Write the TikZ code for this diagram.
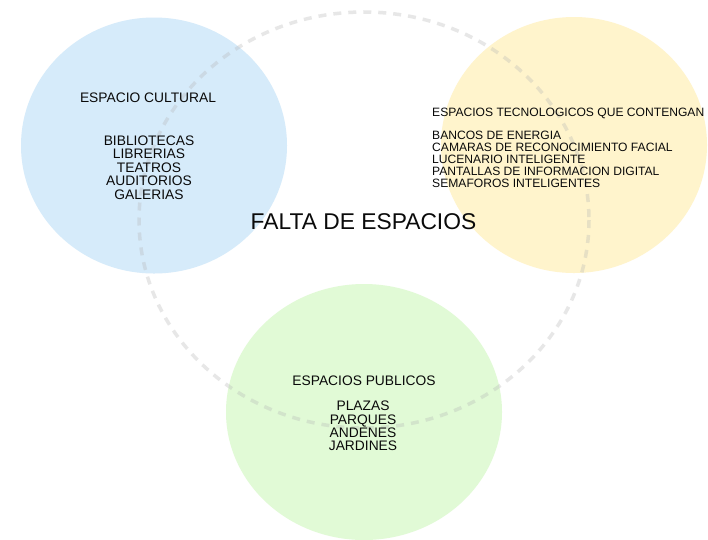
\documentclass[tikz,border=0pt]{standalone}
\usepackage{fontspec}
\setmainfont{Liberation Sans}
\definecolor{cblue}{RGB}{214,235,250}
\definecolor{cyellow}{RGB}{255,244,204}
\definecolor{cgreen}{RGB}{225,250,214}
\definecolor{ctext}{RGB}{10,10,10}
\tikzset{
  ring/.style={draw=gray!60, opacity=0.3, line width=3.5pt, dash pattern=on 8pt off 7pt},
  head/.style={inner sep=0pt, text=ctext, font=\fontsize{13.8}{13.4}\selectfont},
  yhead/.style={inner sep=0pt, text=ctext, font=\fontsize{12.1}{12.1}\selectfont},
  title/.style={inner sep=0pt, text=ctext, font=\fontsize{22.8}{24}\selectfont},
}
\begin{document}
\begin{tikzpicture}[x=1pt,y=-1pt]
\useasboundingbox (0,0) rectangle (708,539);
\fill[white] (0,0) rectangle (708,539);
% circles
\fill[cblue] (154,145.5) ellipse [x radius=133, y radius=128];
\fill[cyellow] (574,145) ellipse [x radius=133, y radius=128];
\fill[cgreen] (364,412) ellipse [x radius=138, y radius=128];
% dashed ring
\draw[ring] (364,220) ellipse [x radius=225, y radius=208];
% blue
\node[head, anchor=base] (cult) at (148,102) {ESPACIO CULTURAL};
\foreach \t [count=\i from 0] in {BIBLIOTECAS,LIBRERIAS,TEATROS,AUDITORIOS,GALERIAS}
  \node[head, anchor=base] (cult\i) at (149,145+13.5*\i) {\t};
% yellow
\node[yhead, anchor=base west] (tec) at (432,116) {ESPACIOS TECNOLOGICOS QUE CONTENGAN};
\foreach \t [count=\i from 0] in {BANCOS DE ENERGIA,CAMARAS DE RECONOCIMIENTO FACIAL,LUCENARIO INTELIGENTE,PANTALLAS DE INFORMACION DIGITAL,SEMAFOROS INTELIGENTES}
  \node[yhead, anchor=base west] (tec\i) at (432,139.3+12.1*\i) {\t};
% title
\node[title, anchor=base] (falta) at (363.5,229) {FALTA DE ESPACIOS};
% green
\node[head, anchor=base] (pub) at (364,385) {ESPACIOS PUBLICOS};
\foreach \t [count=\i from 0] in {PLAZAS,PARQUES,ANDENES,JARDINES}
  \node[head, anchor=base] (pub\i) at (363,410.7+13.4*\i) {\t};
\end{tikzpicture}
\end{document}
